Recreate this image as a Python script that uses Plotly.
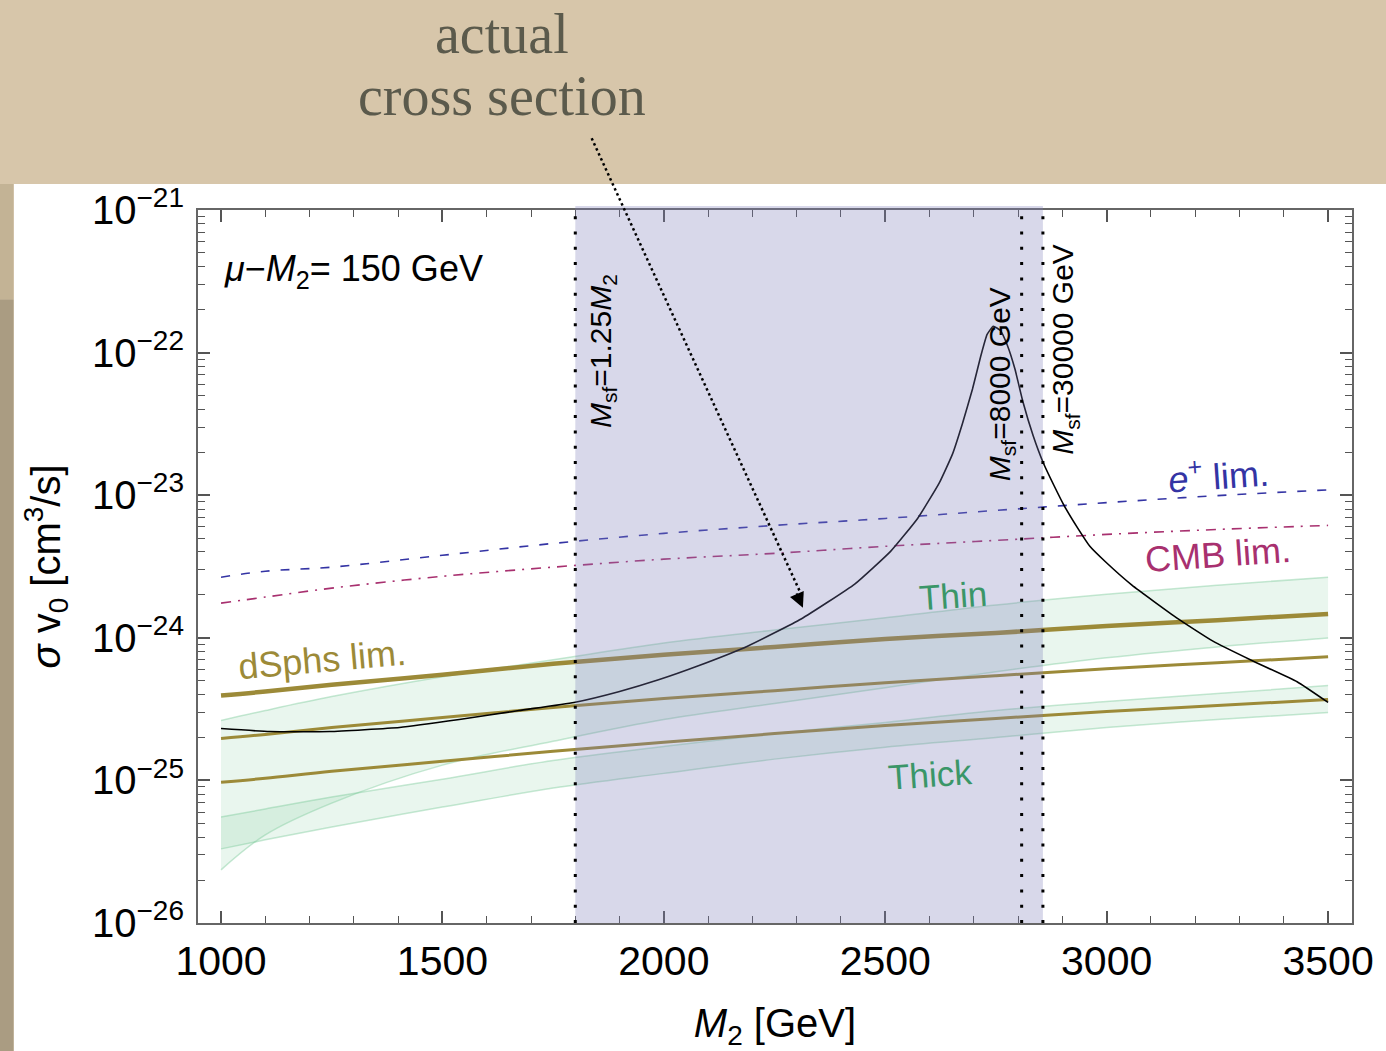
import plotly.graph_objects as go
import math

# ---------------- data ----------------
M2_grid = [1000, 1100, 1250, 1500, 1750, 2000, 2250, 2500, 2750, 3000, 3250, 3500]

thin_upper = [2.63e-25, 3.09e-25, 3.87e-25, 5.33e-25, 7.01e-25, 9.20e-25, 1.135e-24, 1.38e-24, 1.70e-24, 2.02e-24, 2.34e-24, 2.66e-24]
thin_lower = [2.36e-26, 4.15e-26, 6.93e-26, 1.28e-25, 1.88e-25, 2.67e-25, 3.46e-25, 4.47e-25, 5.78e-25, 7.24e-25, 8.63e-25, 9.98e-25]
thick_upper = [5.53e-26, 6.30e-26, 7.64e-26, 1.02e-25, 1.38e-25, 1.73e-25, 2.13e-25, 2.55e-25, 3.09e-25, 3.57e-25, 4.06e-25, 4.62e-25]
thick_lower = [3.31e-26, 3.83e-26, 4.71e-26, 6.50e-26, 8.83e-26, 1.12e-25, 1.41e-25, 1.71e-25, 2.00e-25, 2.35e-25, 2.67e-25, 2.99e-25]

dsph_top = [3.94e-25, 4.20e-25, 4.69e-25, 5.51e-25, 6.58e-25, 7.60e-25, 8.63e-25, 9.82e-25, 1.08e-24, 1.21e-24, 1.33e-24, 1.47e-24]
dsph_mid = [1.97e-25, 2.10e-25, 2.35e-25, 2.76e-25, 3.24e-25, 3.75e-25, 4.26e-25, 4.84e-25, 5.42e-25, 6.07e-25, 6.68e-25, 7.36e-25]
dsph_low = [9.70e-26, 1.035e-25, 1.16e-25, 1.36e-25, 1.60e-25, 1.85e-25, 2.13e-25, 2.43e-25, 2.72e-25, 3.04e-25, 3.35e-25, 3.69e-25]

positron_lim = [2.66e-24, 2.93e-24, 3.13e-24, 3.79e-24, 4.59e-24, 5.40e-24, 6.14e-24, 6.87e-24, 7.82e-24, 8.87e-24, 9.93e-24, 1.09e-23]
cmb_lim = [1.75e-24, 1.93e-24, 2.23e-24, 2.70e-24, 3.13e-24, 3.56e-24, 3.91e-24, 4.38e-24, 4.82e-24, 5.31e-24, 5.75e-24, 6.14e-24]

M2_curve = [1000, 1110, 1245, 1403, 1538, 1673, 1797, 1898, 1988, 2078,
            2190, 2310, 2431, 2512, 2573, 2622, 2652, 2674, 2697, 2715,
            2730, 2744, 2760, 2775, 2793, 2811, 2834, 2856, 2881, 2904,
            2935, 2962, 2996, 3057, 3158, 3239, 3329, 3430, 3500]
sigma_curve = [2.31e-25, 2.20e-25, 2.20e-25, 2.35e-25, 2.67e-25, 3.09e-25, 3.52e-25, 4.19e-25, 5.08e-25, 6.37e-25,
               8.77e-25, 1.355e-24, 2.38e-24, 4.04e-24, 6.87e-24, 1.22e-23, 1.95e-23, 3.16e-23, 5.55e-23, 9.27e-23,
               1.34e-22, 1.53e-22, 1.43e-22, 1.14e-22, 7.64e-23, 4.50e-23, 2.61e-23, 1.71e-23, 1.17e-23, 8.45e-24,
               5.85e-24, 4.38e-24, 3.44e-24, 2.34e-24, 1.38e-24, 9.51e-25, 6.90e-25, 4.92e-25, 3.52e-25]

msf_lines = [1800, 2808, 2856]          # M_sf = 1.25 M2, 8000 GeV, 30000 GeV
shaded_region = [1800, 2856]

x_major = [1000, 1500, 2000, 2500, 3000, 3500]
y_exponents = [-26, -25, -24, -23, -22, -21]

# ---------------- styles ----------------
FONT = "Liberation Sans, Arial, sans-serif"
OLIVE = "#9c8a38"
GREEN_FILL = "rgba(120,200,150,0.16)"
GREEN_EDGE = "rgba(120,200,150,0.42)"
BLUE = "#3434a4"
MAGENTA = "#a8306f"
TEXT_GREEN = "#3a9668"

fig = go.Figure()

# green bands (thick then thin)
for lo, hi in [(thick_lower, thick_upper), (thin_lower, thin_upper)]:
    fig.add_trace(go.Scatter(x=M2_grid, y=lo, mode="lines", line=dict(color=GREEN_EDGE, width=1.5, shape="spline"),
                             hoverinfo="skip"))
    fig.add_trace(go.Scatter(x=M2_grid, y=hi, mode="lines", line=dict(color=GREEN_EDGE, width=1.5, shape="spline"),
                             fill="tonexty", fillcolor=GREEN_FILL, hoverinfo="skip"))

# dSphs limits
fig.add_trace(go.Scatter(x=M2_grid, y=dsph_top, mode="lines", line=dict(color=OLIVE, width=4.5, shape="spline")))
fig.add_trace(go.Scatter(x=M2_grid, y=dsph_mid, mode="lines", line=dict(color=OLIVE, width=3, shape="spline")))
fig.add_trace(go.Scatter(x=M2_grid, y=dsph_low, mode="lines", line=dict(color=OLIVE, width=3, shape="spline")))

# e+ and CMB limits
fig.add_trace(go.Scatter(x=M2_grid, y=positron_lim, mode="lines",
                         line=dict(color=BLUE, width=1.6, dash="9px,11px", shape="spline")))
fig.add_trace(go.Scatter(x=M2_grid, y=cmb_lim, mode="lines",
                         line=dict(color=MAGENTA, width=1.6, dash="10px,7px,2px,7px", shape="spline")))

# actual cross section
fig.add_trace(go.Scatter(x=M2_curve, y=sigma_curve, mode="lines",
                         line=dict(color="black", width=1.6, shape="spline", smoothing=0.4)))

# ---------------- geometry helpers (paper coords) ----------------
L, R, T, B = 198, 30, 210, 125
W, H = 1386, 1051
pw, ph = W - L - R, H - T - B


def px_x(p):
    return (p - L) / pw


def px_y(p):
    return 1 - (p - T) / ph


shapes = [
    # beige page with white slide panel and its left shadow
    dict(type="rect", xref="paper", yref="paper", x0=px_x(13), x1=px_x(W + 20), y0=px_y(H + 20), y1=px_y(184),
         fillcolor="white", line=dict(width=0), layer="below"),
    dict(type="rect", xref="paper", yref="paper", x0=px_x(-5), x1=px_x(13), y0=px_y(300), y1=px_y(184),
         fillcolor="#c3b395", line=dict(width=0), layer="below"),
    dict(type="rect", xref="paper", yref="paper", x0=px_x(-5), x1=px_x(13), y0=px_y(H + 20), y1=px_y(300),
         fillcolor="#aa9c82", line=dict(width=0), layer="below"),
    # lavender region
    dict(type="rect", xref="x", yref="paper", x0=shaded_region[0], x1=shaded_region[1], y0=0, y1=px_y(206),
         fillcolor="rgb(127,127,186)", opacity=0.30, line=dict(width=0), layer="above"),
]
for xv in msf_lines:
    shapes.append(dict(type="line", xref="x", yref="paper", x0=xv, x1=xv, y0=0, y1=px_y(206),
                       line=dict(color="black", width=3, dash="3px,12.3px"), layer="above"))

# dotted arrow shaft from the "actual cross section" label
arrow_tip = (2314, 10 ** -23.79)
shapes.append(dict(type="line", xref="x", yref="paper", x0=1837, y0=px_y(138), x1=2306, y1=px_y(592),
                   line=dict(color="black", width=2.5, dash="2.5px,3px"), layer="above"))

SERIF = dict(family="Liberation Serif, serif", size=56, color="#5b5a4c")
annotations = [
    dict(text="actual", xref="paper", yref="paper", x=px_x(503), y=px_y(33), showarrow=False,
         font=SERIF, xanchor="center", yanchor="middle"),
    dict(text="cross section", xref="paper", yref="paper", x=px_x(503), y=px_y(96), showarrow=False,
         font=SERIF, xanchor="center", yanchor="middle"),
    # arrow head
    dict(text="", x=arrow_tip[0], y=math.log10(arrow_tip[1]), xref="x", yref="y", showarrow=True,
         ax=-7, ay=-16, arrowhead=2, arrowsize=1.5, arrowwidth=2, arrowcolor="black", standoff=0),
    dict(text="<i>μ</i>−<i>M</i><sub>2</sub>= 150 GeV", x=1002, y=-21.43, xref="x", yref="y", showarrow=False,
         xanchor="left", yanchor="middle", font=dict(family=FONT, size=36, color="black")),
    dict(text="<i>M</i><sub>sf</sub>=1.25<i>M</i><sub>2</sub>", x=1860, y=-21.99, xref="x", yref="y",
         showarrow=False, textangle=-90, font=dict(family=FONT, size=30, color="black")),
    dict(text="<i>M</i><sub>sf</sub>=8000 GeV", x=2764, y=-22.22, xref="x", yref="y",
         showarrow=False, textangle=-90, font=dict(family=FONT, size=30, color="black")),
    dict(text="<i>M</i><sub>sf</sub>=30000 GeV", x=2906, y=-21.98, xref="x", yref="y",
         showarrow=False, textangle=-90, font=dict(family=FONT, size=30, color="black")),
    dict(text="dSphs lim.", x=1227, y=-24.15, xref="x", yref="y", showarrow=False, textangle=-5,
         font=dict(family=FONT, size=36, color=OLIVE)),
    dict(text="Thin", x=2654, y=-23.70, xref="x", yref="y", showarrow=False, textangle=-4,
         font=dict(family=FONT, size=35, color=TEXT_GREEN)),
    dict(text="Thick", x=2600, y=-24.96, xref="x", yref="y", showarrow=False, textangle=-4,
         font=dict(family=FONT, size=35, color=TEXT_GREEN)),
    dict(text="<i>e</i><sup>+</sup> lim.", x=3252, y=-22.85, xref="x", yref="y", showarrow=False, textangle=-4,
         font=dict(family=FONT, size=36, color=BLUE)),
    dict(text="CMB lim.", x=3252, y=-23.415, xref="x", yref="y", showarrow=False, textangle=-4,
         font=dict(family=FONT, size=36, color=MAGENTA)),
]

x_minor = [v for v in range(1000, 3600, 100) if v not in x_major]
y_minor = [k * 10.0 ** e for e in y_exponents[:-1] for k in range(2, 10)]

fig.update_layout(
    width=W, height=H, autosize=False,
    margin=dict(l=L, r=R, t=T, b=B, pad=0),
    paper_bgcolor="#d7c6aa", plot_bgcolor="white",
    showlegend=False,
    shapes=shapes, annotations=annotations,
    xaxis=dict(range=[948, 3554], tickmode="array", tickvals=x_major, ticktext=[str(v) for v in x_major],
               ticks="inside", ticklen=12, tickwidth=1.5, tickcolor="#555",
               showline=True, linecolor="#666", linewidth=2, mirror="allticks",
               showgrid=False, zeroline=False, ticklabelstandoff=1,
               tickfont=dict(family=FONT, size=41, color="black"),
               minor=dict(tickmode="array", tickvals=x_minor, ticks="inside", ticklen=7, tickwidth=1.2,
                          tickcolor="#555", showgrid=False),
               title=dict(text="<i>M</i><sub>2</sub> [GeV]", font=dict(family=FONT, size=40, color="black"),
                          standoff=27)),
    yaxis=dict(type="log", range=[-26, -21], tickmode="array",
               tickvals=[10.0 ** e for e in y_exponents],
               ticktext=["10<sup>−%d</sup>" % (-e) for e in y_exponents],
               ticks="inside", ticklen=12, tickwidth=1.5, tickcolor="#555",
               showline=True, linecolor="#666", linewidth=2, mirror="allticks",
               showgrid=False, zeroline=False, ticklabelstandoff=4,
               tickfont=dict(family=FONT, size=40, color="black"),
               minor=dict(tickmode="array", tickvals=y_minor, ticks="inside", ticklen=7, tickwidth=1.2,
                          tickcolor="#555", showgrid=False),
               title=dict(text="<i>σ</i> v<sub>0</sub> [cm<sup>3</sup>/s]",
                          font=dict(family=FONT, size=40, color="black"), standoff=19)),
)

fig.write_html("out.html")
